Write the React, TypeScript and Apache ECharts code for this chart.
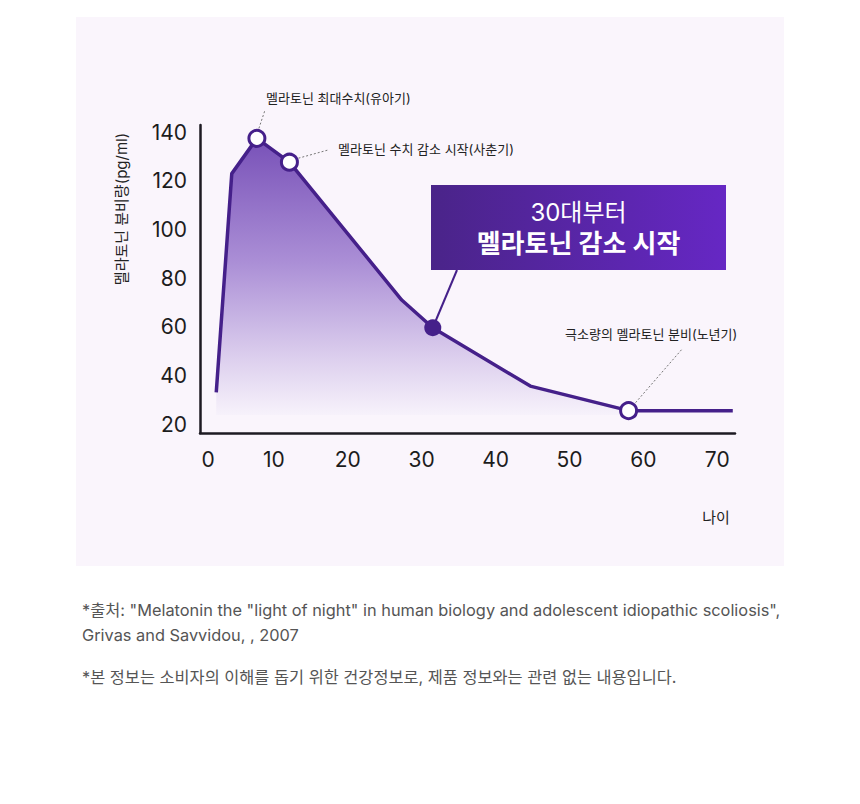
import React, { useEffect, useRef } from "react";
import * as echarts from "echarts";

const ages = [2.2, 4.3, 7.7, 12.1, 27.3, 31.5, 44.7, 58, 72.1];
const levels = [33, 123, 137.5, 127.7, 71, 59.6, 35.6, 25.5, 25.5];
const areaEndIndex = 7;
const yTicks = [20, 40, 60, 80, 100, 120, 140];
const xTicks = [0, 10, 20, 30, 40, 50, 60, 70];
const hollowIdx = [2, 3, 7];
const highlightIdx = 5;
const noteTexts = ["멜라토닌 최대수치(유아기)", "멜라토닌 수치 감소 시작(사춘기)", "극소량의 멜라토닌 분비(노년기)"];
const boxLine1 = "30대부터";
const boxLine2 = "멜라토닌 감소 시작";
const yName = "멜라토닌 분비량(pg/ml)";
const xName = "나이";
const footnotes = [
  '*출처: "Melatonin the "light of night" in human biology and adolescent idiopathic scoliosis",',
  "Grivas and Savvidou, , 2007",
  "*본 정보는 소비자의 이해를 돕기 위한 건강정보로, 제품 정보와는 관련 없는 내용입니다.",
];

const FONT = "Inter, 'Noto Sans CJK KR', sans-serif";
const LINE = "#45208a";

export default function App() {
  const ref = useRef<HTMLDivElement>(null);
  useEffect(() => {
    if (!ref.current) return;
    const chart = echarts.init(ref.current, null, { renderer: "svg" });
    const pts = ages.map((a, i) => [a, levels[i]]);
    chart.setOption({
      animation: false,
      backgroundColor: "#ffffff",
      grid: { left: 200, top: 125, width: 535, height: 308 },
      xAxis: {
        type: "value",
        min: 0,
        max: 72.4,
        splitLine: { show: false },
        axisTick: { show: false },
        axisLine: { show: true, onZero: false, lineStyle: { color: "#1d1a22", width: 2.5 } },
        axisLabel: {
          customValues: xTicks.map((v) => (v === 0 ? 1.1 : v)),
          formatter: (v: number) => String(Math.round(v / 10) * 10),
          color: "#1c1c1c",
          fontSize: 21,
          fontFamily: FONT,
          margin: 16,
        },
      },
      yAxis: {
        type: "value",
        min: 16.3,
        max: 143,
        splitLine: { show: false },
        axisTick: { show: false },
        axisLine: { show: true, onZero: false, lineStyle: { color: "#1d1a22", width: 2.5 } },
        axisLabel: {
          customValues: yTicks,
          color: "#1c1c1c",
          fontSize: 21,
          fontFamily: FONT,
          margin: 13,
        },
      },
      series: [
        {
          type: "line",
          data: pts.slice(0, areaEndIndex + 1),
          symbol: "none",
          lineStyle: { width: 0 },
          areaStyle: {
            origin: 23.7,
            opacity: 1,
            color: new echarts.graphic.LinearGradient(0, 0, 0, 1, [
              { offset: 0, color: "#7851b8" },
              { offset: 0.45, color: "#ab8fd6" },
              { offset: 0.8, color: "#ddd0ee" },
              { offset: 1, color: "#f7f2fb" },
            ]),
          },
          z: 1,
        },
        {
          type: "line",
          data: pts,
          symbol: "none",
          lineStyle: { color: LINE, width: 3.5, join: "round" },
          z: 3,
        },
        {
          type: "scatter",
          data: hollowIdx.map((i) => pts[i]),
          symbol: "circle",
          symbolSize: 16,
          itemStyle: { color: "#ffffff", borderColor: LINE, borderWidth: 3, opacity: 1 },
          z: 5,
        },
        {
          type: "scatter",
          data: [pts[highlightIdx]],
          symbol: "circle",
          symbolSize: 17,
          itemStyle: { color: LINE, opacity: 1 },
          z: 5,
        },
      ],
    });

    const px = (i: number) => chart.convertToPixel({ gridIndex: 0 }, pts[i]) as number[];
    const p0 = px(hollowIdx[0]);
    const p1 = px(hollowIdx[1]);
    const p2 = px(hollowIdx[2]);
    const ph = px(highlightIdx);
    const dotted = { stroke: "#777", lineWidth: 1, lineDash: [2, 2] };
    const noteStyle = { fill: "#222", fontSize: 13, fontFamily: FONT };
    const boxX = 431, boxY = 185, boxW = 295, boxH = 85;

    chart.setOption({
      graphic: [
        { type: "rect", z: -10, silent: true, shape: { x: 76, y: 17, width: 708, height: 549 }, style: { fill: "#faf5fc" } },
        // annotations
        { type: "line", z: 10, shape: { x1: p0[0] + 2, y1: p0[1] - 10, x2: p0[0] + 8, y2: p0[1] - 28 }, style: dotted },
        { type: "text", z: 10, x: 266, y: 98, style: { ...noteStyle, text: noteTexts[0], verticalAlign: "middle" } },
        { type: "line", z: 10, shape: { x1: p1[0] + 9, y1: p1[1] - 4, x2: p1[0] + 38, y2: p1[1] - 12 }, style: dotted },
        { type: "text", z: 10, x: 338, y: 149, style: { ...noteStyle, text: noteTexts[1], verticalAlign: "middle" } },
        { type: "line", z: 10, shape: { x1: p2[0] + 7, y1: p2[1] - 8, x2: p2[0] + 53, y2: p2[1] - 61 }, style: dotted },
        { type: "text", z: 10, x: 565, y: 334, style: { ...noteStyle, text: noteTexts[2], verticalAlign: "middle" } },
        // connector to box
        { type: "line", z: 4, shape: { x1: ph[0], y1: ph[1], x2: 457, y2: boxY + boxH }, style: { stroke: LINE, lineWidth: 2 } },
        {
          type: "rect",
          z: 10,
          shape: { x: boxX, y: boxY, width: boxW, height: boxH },
          style: {
            fill: new echarts.graphic.LinearGradient(0, 0, 1, 0, [
              { offset: 0, color: "#4a2489" },
              { offset: 1, color: "#6627c4" },
            ]),
          },
        },
        {
          type: "text", z: 11, x: boxX + boxW / 2, y: 212,
          style: { text: boxLine1, fill: "#fff", fontSize: 24, fontFamily: FONT, align: "center", verticalAlign: "middle" },
        },
        {
          type: "text", z: 11, x: boxX + boxW / 2, y: 243,
          style: { text: boxLine2, fill: "#fff", fontSize: 26, fontWeight: "bold", fontFamily: FONT, align: "center", verticalAlign: "middle" },
        },
        // axis names
        {
          type: "text", z: 10, x: 121, y: 209, rotation: Math.PI / 2,
          style: { text: yName, fill: "#222", fontSize: 15, fontFamily: FONT, align: "center", verticalAlign: "middle" },
        },
        { type: "text", z: 10, x: 716, y: 517, style: { text: xName, fill: "#222", fontSize: 15, fontFamily: FONT, align: "center", verticalAlign: "middle" } },
        // footnotes
        ...footnotes.map((t, i) => ({
          type: "text",
          z: 10,
          x: 82,
          y: [610, 635, 677][i],
          style: { text: t, fill: "#555", fontSize: 16.35, fontFamily: FONT, verticalAlign: "middle" },
        })),
      ],
    });
    return () => chart.dispose();
  }, []);
  return <div ref={ref} style={{ position: "fixed", left: 0, top: 0, width: 860, height: 804 }} />;
}
